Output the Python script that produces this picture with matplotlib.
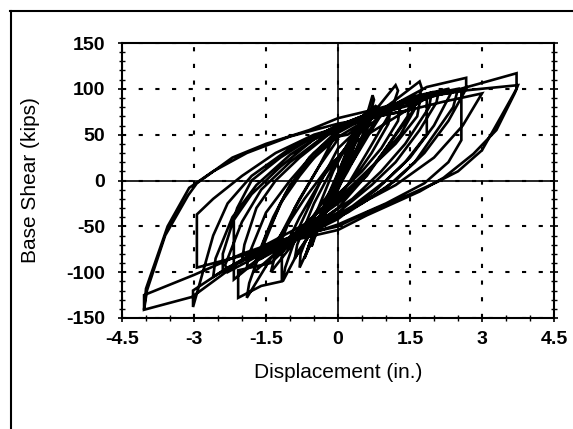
import numpy as np
import matplotlib
matplotlib.use('Agg')
import matplotlib.pyplot as plt
from matplotlib.lines import Line2D
from matplotlib.ticker import MultipleLocator

plt.rcParams['font.family'] = ['Liberation Sans', 'DejaVu Sans']

# hysteresis path, split by amplitude stage
disp_small = [0.0, 0.12, 0.25, 0.2, 0.0, -0.12, -0.25, -0.2, 0.0,
              0.15, 0.35, 0.3, 0.05, -0.15, -0.38, -0.32, -0.05,
              0.2, 0.45, 0.4, 0.1, -0.2, -0.5, -0.45, -0.1]
shear_small = [0, 15, 30, 22, 0, -15, -32, -24, -2,
               18, 42, 32, 5, -18, -48, -38, -5,
               25, 55, 45, 10, -25, -62, -50, -10]

disp_mid = [0.25, 0.55, 0.72, 0.75, 0.6, 0.3, 0.0, -0.4, -0.8, -0.78, -0.45, -0.1,
            0.3, 0.6, 0.4, 0.1, -0.3, -0.7, -0.6, -0.2,
            0.2, 0.8, 1.2, 1.25, 1.1, 0.6, 0.2, -0.4, -0.8, -1.15, -1.1, -0.8, -0.4,
            0.0, 0.5, 0.9, 0.6, 0.2, -0.3, -0.9, -0.85, -0.5, 0.0]
shear_mid = [30, 62, 93, 88, 60, 25, -10, -50, -95, -80, -35, 10,
             50, 75, 50, 15, -35, -85, -70, -20,
             35, 78, 104, 98, 75, 30, -5, -45, -75, -110, -95, -50, -5,
             35, 60, 75, 50, 10, -35, -85, -70, -25, 25]

disp_big = [0.6, 1.2, 1.7, 1.75, 1.55, 1.0, 0.5, 0.0, -0.8, -1.4, -1.9, -1.85, -1.5,
            -1.1, -0.6, 0.0, 0.8, 1.4, 1.85, 1.85, 1.4, 0.8, 0.0, -1.0, -1.7,
            -2.17, -2.17, -1.8, -1.2, -0.5, 0.3, 1.0, 0.7, 0.3, -0.2, -0.8, -1.4,
            -1.3, -0.9, -0.4]
shear_big = [65, 88, 108, 100, 75, 35, 0, -30, -60, -85, -128, -112, -60,
             -15, 25, 55, 75, 85, 92, 50, 20, -10, -42, -68, -88,
             -108, -43, -15, 15, 45, 65, 80, 55, 20, -15, -60, -100,
             -80, -30, 15]

disp_extra = [0.0, 0.9, 1.6, 2.3, 2.35, 2.0, 1.5, 1.0, 0.3, -0.5, -1.3, -2.3,
              -2.35, -2.0, -1.6, -1.0, -0.3,
              0.5, 1.3, 1.95, 1.9, 1.4, 0.9, 0.3, -0.4, -1.2, -1.9, -1.85, -1.5,
              -1.0, -0.5, 0.0,
              0.7, 1.5, 1.45, 1.0, 0.6, 0.0, -0.8, -1.6, -1.55, -1.2, -0.8, -0.3,
              0.4, 1.1, 1.05, 0.7, 0.3, -0.3, -1.0, -1.3, -1.2, -0.8, -0.4, 0.0]
shear_extra = [55, 78, 92, 100, 95, 60, 25, 0, -28, -52, -72, -100,
               -92, -45, -10, 20, 48,
               68, 85, 96, 80, 40, 10, -20, -45, -68, -95, -80, -35,
               0, 30, 52,
               72, 88, 70, 35, 5, -25, -55, -85, -70, -25, 5, 38,
               60, 80, 62, 30, 0, -30, -62, -80, -60, -20, 15, 45]

disp_fill = [-0.2, 0.6, 1.3, 1.25, 0.9, 0.5, 0.0, -0.7, -1.5, -2.0, -1.95, -1.7,
             -1.3, -0.8, -0.2,
             0.8, 2.1, 2.05, 1.7, 1.2, 0.7, 0.0, -1.0, -2.4, -2.4, -2.1, -1.8,
             -1.2, -0.6,
             0.2, 1.0, 1.7, 1.65, 1.2, 0.7, 0.2, -0.5, -1.1, -1.75, -1.7, -1.35,
             -1.0, -0.6, 0.0]
shear_fill = [55, 72, 82, 65, 35, 10, -15, -48, -70, -88, -70, -30,
              0, 25, 50,
              75, 97, 85, 55, 20, -5, -35, -62, -98, -80, -30, 0,
              25, 45,
              60, 75, 85, 70, 40, 15, -12, -45, -70, -100, -85, -40,
              -5, 20, 48]

disp_large = [0.2, 1.0, 1.85, 2.67, 2.67, 2.3, 1.8, 1.2, 0.5, -0.5, -1.5, -2.3,
              -3.02, -3.02, -2.95, -2.6, -2.3, -1.8, -1.0, 0.0, 1.0, 2.0, 2.57,
              2.57, 2.3, 1.8, 1.0, 0.0, -1.0, -2.0, -2.94, -2.94, -2.6, -2.0,
              -1.3, -0.5, 0.3, 1.0, 1.6, 1.3, 0.8, 0.2, -0.6, -1.4, -2.08, -2.08,
              -1.6, -1.17, -1.17, -0.8, -0.3, 0.3]
shear_large = [50, 78, 102, 112, 100, 65, 30, 0, -25, -52, -75, -95,
               -120, -138, -125, -60, -25, 5, 35, 60, 80, 93, 98,
               44, 20, -3, -25, -48, -65, -82, -95, -37, -20, 5,
               30, 50, 62, 72, 78, 50, 20, -10, -50, -90, -98, -128,
               -115, -110, -80, -40, 5, 45]

disp_max = [1.0, 2.0, 2.9, 3.72, 3.72, 3.4, 3.0, 2.5, 2.05, 1.5, 0.6, 0.0, -1.0,
            -2.0, -3.0, -4.04, -4.04, -3.98, -3.6, -3.12, -2.94, -2.2, -1.5,
            -0.6, 0.0, 0.8, 1.5, 2.6, 3.75, 3.68, 3.3, 2.82, 2.2, 1.7, 0.6, 0.0,
            -1.0, -2.0, -3.04, -4.04, -4.0, -3.55, -3.1, -2.6, -1.9, -1.0, 0.0,
            1.34, 2.2, 3.0, 2.6, 2.0, 1.2, 0.3, -0.6, -1.5, -1.2, -0.7, -0.2, 0.3]
shear_max = [75, 92, 105, 117, 100, 70, 33, 10, -2, -15, -35, -50, -62,
             -80, -103, -125, -141, -120, -60, -16, -3, 25, 40,
             55, 68, 78, 88, 98, 104, 95, 55, 29, 3, -12, -38, -54,
             -66, -87, -127, -141, -118, -50, -8, 10, 30, 48, 62,
             75, 86, 95, 60, 25, -5, -30, -55, -80, -60, -20, 15, 40]

disp_after = [2.0, 2.5, 2.4, 2.0, 1.6, 1.0, 0.2, -0.8, -1.8, -2.6, -2.55, -2.2,
              -1.7, -1.0, -0.2, 0.5, 0.8, 0.6, 0.2, -0.1, -0.5, -0.65, -0.5,
              -0.2, 0.1, 0.4, 0.55, 0.4, 0.0, -0.3, -0.55, -0.45, -0.1, 0.2]
shear_after = [95, 100, 80, 50, 20, -8, -35, -58, -80, -105, -85, -40,
               -5, 28, 55, 70, 82, 55, 15, -15, -55, -78, -55,
               -15, 20, 55, 72, 50, 0, -35, -72, -50, -5, 30]

disp = (disp_small + disp_mid + disp_big + disp_extra + disp_fill + disp_large
        + disp_max + disp_after)
shear = (shear_small + shear_mid + shear_big + shear_extra + shear_fill
         + shear_large + shear_max + shear_after)

fig = plt.figure(figsize=(5.73, 4.29), dpi=100)
ax = fig.add_axes([122 / 573, 1 - 318 / 429, 432 / 573, 275 / 429])

ax.plot(disp, shear, color='black', lw=1.9, solid_joinstyle='miter', zorder=3)

ax.set_xlim(-4.5, 4.5)
ax.set_ylim(-150, 150)
ax.xaxis.set_minor_locator(MultipleLocator(0.5))
ax.yaxis.set_minor_locator(MultipleLocator(10))
xt = [-4.5, -3, -1.5, 0, 1.5, 3, 4.5]
ax.set_xticks(xt)
ax.set_xticklabels(['-4.5', '-3', '-1.5', '0', '1.5', '3', '4.5'])
yt = [-150, -100, -50, 0, 50, 100, 150]
ax.set_yticks(yt)
ax.set_yticklabels([str(v) for v in yt])

ax.grid(True, which='major', color='black', lw=1.5, linestyle=(0, (2, 6)))
ax.axhline(0, color='black', lw=1.2, zorder=2)
ax.axvline(0, color='black', lw=1.2, zorder=2)

for s in ax.spines.values():
    s.set_linewidth(1.5)

ax.tick_params(which='major', direction='inout', length=6, width=1.2,
               labelsize=14, pad=6)
ax.tick_params(axis='y', which='major', pad=9)
ax.tick_params(which='minor', direction='inout', length=4, width=1.0)
ax.tick_params(axis='y', which='both', right=True)
for lab in ax.get_xticklabels() + ax.get_yticklabels():
    lab.set_fontweight('bold')

ax.set_xlabel('Displacement (in.)', fontsize=15)
ax.set_ylabel('Base Shear (kips)', fontsize=15)
ax.xaxis.set_label_coords(0.5, -0.164)
ax.yaxis.set_label_coords(-0.19, 0.5)

# outer frame of the scanned page (top and left edges only)
fig.add_artist(Line2D([10 / 573, 1.0], [1 - 11 / 429, 1 - 11 / 429],
                      color='black', lw=1.5))
fig.add_artist(Line2D([11 / 573, 11 / 573], [0.0, 1 - 11 / 429],
                      color='black', lw=1.5))

fig.savefig('out.png', dpi=100)
